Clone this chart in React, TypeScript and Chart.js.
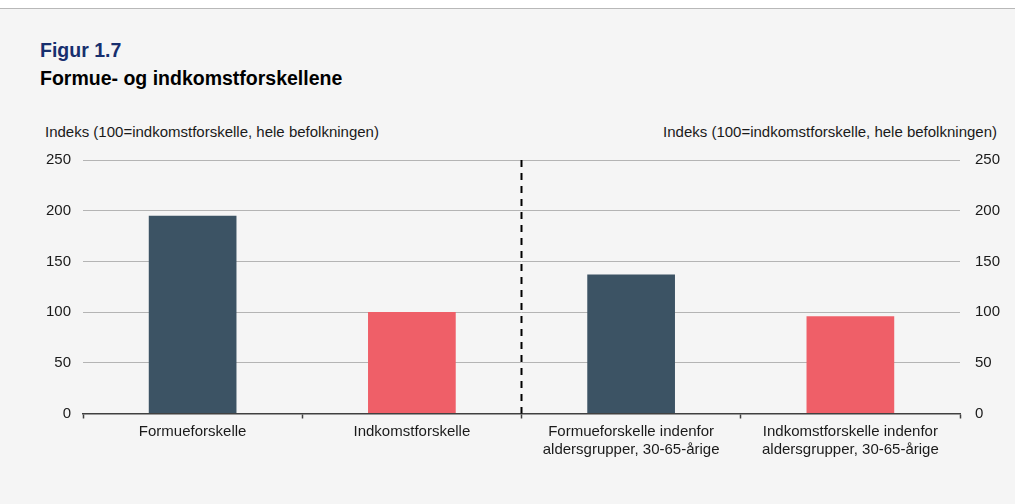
import React, { useEffect, useRef } from "react";
import { Chart, registerables } from "chart.js";

Chart.register(...registerables);

const categories: string[][] = [
  ["Formueforskelle"],
  ["Indkomstforskelle"],
  ["Formueforskelle indenfor", "aldersgrupper, 30-65-årige"],
  ["Indkomstforskelle indenfor", "aldersgrupper, 30-65-årige"],
];
const values: number[] = [195, 100, 137, 96];
const barColors: string[] = ["#3c5364", "#ef5f68", "#3c5364", "#ef5f68"];
const yMin = 0;
const yMax = 250;
const yStep = 50;
const axisTitle = "Indeks (100=indkomstforskelle, hele befolkningen)";
const figNo = "Figur 1.7";
const figTitle = "Formue- og indkomstforskellene";

const FONT = "'Liberation Sans', Arial, sans-serif";

const dividerPlugin = {
  id: "divider",
  afterDatasetsDraw(chart: any) {
    const x = chart.scales.x;
    const area = chart.chartArea;
    const px = (x.getPixelForValue(1) + x.getPixelForValue(2)) / 2;
    const ctx = chart.ctx;
    ctx.save();
    ctx.strokeStyle = "#000000";
    ctx.lineWidth = 2;
    ctx.setLineDash([7, 6]);
    ctx.beginPath();
    ctx.moveTo(px, area.top);
    ctx.lineTo(px, area.bottom);
    ctx.stroke();
    ctx.restore();
  },
};

export default function App() {
  const ref = useRef<HTMLCanvasElement | null>(null);

  useEffect(() => {
    document.body.style.margin = "0";
    if (!ref.current) return;
    const chart = new Chart(ref.current, {
      type: "bar",
      data: {
        labels: categories,
        datasets: [
          {
            data: values,
            backgroundColor: barColors,
            barPercentage: 0.4,
            categoryPercentage: 1,
            yAxisID: "y",
          },
        ],
      },
      options: {
        animation: false,
        responsive: false,
        maintainAspectRatio: false,
        devicePixelRatio: 1,
        layout: { padding: { top: 0, bottom: 0, left: 0, right: 0 } },
        plugins: {
          legend: { display: false },
          tooltip: { enabled: false },
        },
        scales: {
          x: {
            offset: true,
            grid: {
              offset: true,
              drawOnChartArea: false,
              drawTicks: true,
              tickLength: 5,
              tickColor: "#404040",
              tickWidth: 1.5,
            },
            border: { display: true, color: "#404040", width: 1.5 },
            ticks: {
              color: "#1a1a1a",
              font: { family: FONT, size: 15, lineHeight: 1.15 },
              padding: 5,
              maxRotation: 0,
              autoSkip: false,
            },
          },
          y: {
            position: "left",
            min: yMin,
            max: yMax,
            ticks: {
              stepSize: yStep,
              color: "#1a1a1a",
              font: { family: FONT, size: 15 },
              padding: 12,
            },
            grid: {
              drawTicks: false,
              color: (c: any) => (c.tick && c.tick.value === 0 ? "rgba(0,0,0,0)" : "#b4b4b4"),
              lineWidth: 1,
            },
            border: { display: false },
            afterFit: (s: any) => {
              s.width = 83;
            },
          },
          y2: {
            position: "right",
            min: yMin,
            max: yMax,
            ticks: {
              stepSize: yStep,
              color: "#1a1a1a",
              font: { family: FONT, size: 15 },
              padding: 15,
            },
            grid: { display: false, drawTicks: false },
            border: { display: false },
            afterFit: (s: any) => {
              s.width = 55;
            },
          },
        },
      },
      plugins: [dividerPlugin],
    });
    return () => chart.destroy();
  }, []);

  return (
    <div
      style={{
        position: "relative",
        width: 1015,
        height: 504,
        background: "#ffffff",
        fontFamily: FONT,
        overflow: "hidden",
      }}
    >
      <div
        style={{
          position: "absolute",
          top: 8,
          left: 0,
          width: 1015,
          height: 496,
          background: "#f5f5f5",
          borderTop: "1px solid #b8b8b8",
        }}
      />
      <div
        style={{
          position: "absolute",
          top: 39,
          left: 40,
          fontSize: 19.5,
          fontWeight: "bold",
          color: "#172f6e",
          lineHeight: "22px",
          whiteSpace: "nowrap",
        }}
      >
        {figNo}
      </div>
      <div
        style={{
          position: "absolute",
          top: 67,
          left: 40,
          fontSize: 19.5,
          fontWeight: "bold",
          color: "#000000",
          lineHeight: "22px",
          whiteSpace: "nowrap",
        }}
      >
        {figTitle}
      </div>
      <div
        style={{
          position: "absolute",
          top: 123,
          left: 45,
          fontSize: 15,
          color: "#1a1a1a",
          lineHeight: "18px",
          whiteSpace: "nowrap",
        }}
      >
        {axisTitle}
      </div>
      <div
        style={{
          position: "absolute",
          top: 123,
          right: 18,
          fontSize: 15,
          color: "#1a1a1a",
          lineHeight: "18px",
          whiteSpace: "nowrap",
        }}
      >
        {axisTitle}
      </div>
      <canvas
        ref={ref}
        width={1015}
        height={327}
        style={{ position: "absolute", top: 136, left: 0, width: 1015, height: 327 }}
      />
    </div>
  );
}
